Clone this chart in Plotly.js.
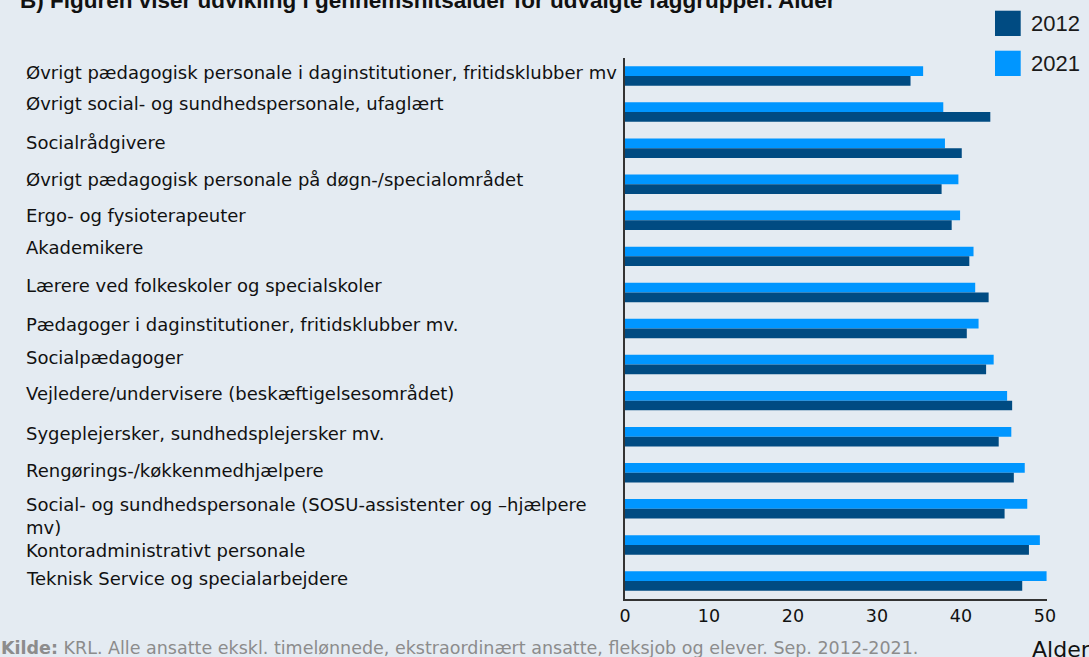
<!DOCTYPE html>
<html>
<head>
<meta charset="utf-8">
<script src="https://cdn.plot.ly/plotly-3.0.1.min.js"></script>
<style>
html,body{margin:0;padding:0;background:#e4ebf2;}
#chart{width:1089px;height:657px;}
</style>
</head>
<body>
<div id="chart"></div>
<script>
// ---- data ----
const categories = [
  "Øvrigt pædagogisk personale i daginstitutioner, fritidsklubber mv",
  "Øvrigt social- og sundhedspersonale, ufaglært",
  "Socialrådgivere",
  "Øvrigt pædagogisk personale på døgn-/specialområdet",
  "Ergo- og fysioterapeuter",
  "Akademikere",
  "Lærere ved folkeskoler og specialskoler",
  "Pædagoger i daginstitutioner, fritidsklubber mv.",
  "Socialpædagoger",
  "Vejledere/undervisere (beskæftigelsesområdet)",
  "Sygeplejersker, sundhedsplejersker mv.",
  "Rengørings-/køkkenmedhjælpere",
  "Social- og sundhedspersonale (SOSU-assistenter og –hjælpere<br>mv)",
  "Kontoradministrativt personale",
  "Teknisk Service og specialarbejdere"
];
const values2012 = [34.0, 43.5, 40.1, 37.7, 38.9, 41.0, 43.3, 40.7, 43.0, 46.1, 44.5, 46.3, 45.2, 48.1, 47.3];
const values2021 = [35.5, 37.9, 38.1, 39.7, 39.9, 41.5, 41.7, 42.1, 43.9, 45.5, 46.0, 47.6, 47.9, 49.4, 50.2];
const seriesNames = ["2012", "2021"];
const xTickValues = [0, 10, 20, 30, 40, 50];
const titleText = "B) Figuren viser udvikling i gennemsnitsalder for udvalgte faggrupper. Alder";
const xAxisTitle = "Alder";
const sourceText = "<b>Kilde:</b> KRL. Alle ansatte ekskl. timelønnede, ekstraordinært ansatte, fleksjob og elever. Sep. 2012-2021.";

// ---- styling ----
const W = 1089, H = 657;
const M = {l: 625, r: 42, t: 58, b: 58};
const PW = W - M.l - M.r, PH = H - M.t - M.b;
const px2x = px => (px - M.l) / PW;
const py2y = py => 1 - (py - M.t) / PH;
const colors = {"2012": "#004b82", "2021": "#0096ff"};
const bg = "#e4ebf2";
const labelFont = "'DejaVu Sans', Verdana, sans-serif";
const labelSize = 18;
// pixel offset of each label's first line above its bar pair centre (as placed in the reference)
const labelRaise = [3.5, 8.5, 5.5, 4.5, 4.5, 8.5, 6.5, 3.5, 6.5, 6.5, 3.5, 2.5, 4.5, -5.5, 2.5];
const halfLine = labelSize * 1.3 / 2 + 1;

const traces = [
  {type: "bar", orientation: "h", name: seriesNames[1], y: categories, x: values2021,
   marker: {color: colors["2021"]}, showlegend: false, hoverinfo: "x+y"},
  {type: "bar", orientation: "h", name: seriesNames[0], y: categories, x: values2012,
   marker: {color: colors["2012"]}, showlegend: false, hoverinfo: "x+y"}
];

const annotations = categories.map((c, i) => ({
  xref: "paper", yref: "y", x: px2x(24), y: c,
  xanchor: "left", yanchor: "top", yshift: labelRaise[i] + halfLine, align: "left",
  text: c, showarrow: false,
  font: {family: labelFont, size: labelSize, color: "#111"}
}));

// legend drawn as squares + labels
const shapes = [];
const legendTop = [10.7, 50.7];
seriesNames.forEach((s, i) => {
  shapes.push({type: "rect", xref: "paper", yref: "paper",
    x0: px2x(995), x1: px2x(1020.7), y0: py2y(legendTop[i]), y1: py2y(legendTop[i] + 25.3),
    fillcolor: colors[s], line: {width: 0}});
  annotations.push({xref: "paper", yref: "paper", x: px2x(1029), y: py2y(legendTop[i] + 12.7),
    xanchor: "left", yanchor: "middle", text: s, showarrow: false,
    font: {family: "Liberation Sans, Arial, sans-serif", size: 22, color: "#1a1a1a"}});
});

annotations.push({xref: "paper", yref: "paper", x: px2x(-1), y: py2y(648),
  xanchor: "left", yanchor: "middle", text: sourceText, showarrow: false,
  font: {family: labelFont, size: 17.5, color: "#8c8c8c"}});
annotations.push({xref: "paper", yref: "paper", x: px2x(1030), y: py2y(649),
  xanchor: "left", yanchor: "middle", text: xAxisTitle, showarrow: false,
  font: {family: labelFont, size: 22, color: "#111"}});

const layout = {
  width: W, height: H,
  margin: M,
  paper_bgcolor: bg, plot_bgcolor: bg,
  barmode: "group", bargap: 0.46, bargroupgap: 0,
  title: {text: "<b>" + titleText + "</b>", xref: "container", yref: "container",
    x: 20 / W, xanchor: "left", y: 1, yanchor: "middle",
    font: {family: "Liberation Sans, Arial, sans-serif", size: 22.5, color: "#111"}},
  xaxis: {range: [0, 50.25], tickvals: xTickValues, ticktext: xTickValues.map(String),
    showgrid: false, zeroline: false, showline: true, linecolor: "#333", linewidth: 2,
    ticks: "", tickfont: {family: labelFont, size: 17.5, color: "#111"}, fixedrange: true},
  yaxis: {type: "category", autorange: "reversed", showticklabels: false, showgrid: false,
    zeroline: false, showline: true, linecolor: "#333", linewidth: 2, ticks: "", fixedrange: true},
  showlegend: false,
  shapes: shapes,
  annotations: annotations
};

Plotly.newPlot("chart", traces, layout, {displayModeBar: false, staticPlot: true});
</script>
</body>
</html>
